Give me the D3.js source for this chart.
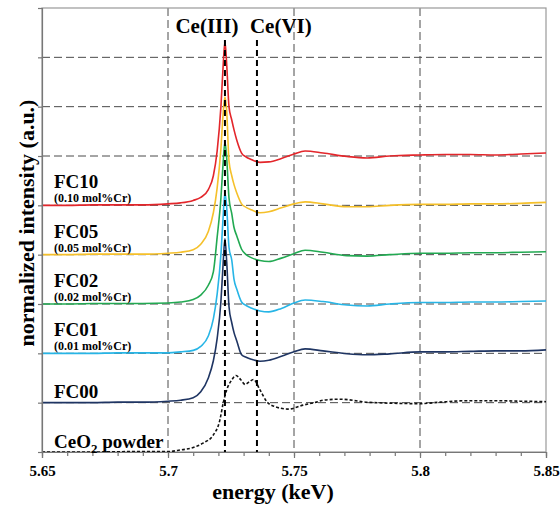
<!DOCTYPE html>
<meta charset="utf-8">
<style>

body {
  margin: 0;
  background: #fff;
}

text {
  font-family: "Liberation Serif", "Times New Roman", serif;
  font-weight: bold;
  fill: #000;
}

.grid line {
  stroke: #4a4a4a;
  stroke-width: 1;
  stroke-dasharray: 8,4;
}

.axis path,
.axis line {
  stroke: #777;
  stroke-width: 1.2;
}

.spectrum {
  fill: none;
  stroke-width: 1.6;
}

</style>
<svg width="560" height="507"></svg>
<script src="https://d3js.org/d3.v7.min.js"></script>
<script>

// energies (keV) shared by the FC samples
var energy = [5.650, 5.660, 5.670, 5.680, 5.690, 5.700, 5.705, 5.710, 5.713, 5.716,
              5.718, 5.7195, 5.721, 5.7218, 5.7226, 5.7233, 5.7242, 5.7253, 5.7262, 5.7273,
              5.7292, 5.731, 5.733, 5.7365, 5.740, 5.745, 5.750, 5.7544, 5.7615, 5.771,
              5.779, 5.788, 5.800, 5.810, 5.820, 5.830, 5.840, 5.850];

// normalized intensity above each spectrum's own baseline
var fc10 = [0, 0, 0.01, 0.01, 0.01, 0.03, 0.05, 0.10, 0.16, 0.32,
            0.60, 1.10, 2.00, 2.75, 3.32, 2.85, 2.00, 1.73, 1.53, 1.32,
            1.06, 0.98, 0.93, 0.87, 0.88, 0.95, 1.04, 1.10, 1.06, 0.99,
            0.96, 1.00, 1.02, 1.03, 1.03, 1.02, 1.04, 1.06];
var fc05 = [0, 0, 0.01, 0.01, 0.01, 0.03, 0.05, 0.10, 0.21, 0.47,
            0.85, 1.35, 2.15, 2.80, 3.20, 2.90, 1.90, 1.60, 1.42, 1.25,
            1.03, 0.96, 0.91, 0.85, 0.87, 0.95, 1.03, 1.07, 1.03, 0.97,
            0.97, 1.00, 1.02, 1.02, 1.03, 1.03, 1.04, 1.06];
var fc02 = [0, 0, 0.01, 0.01, 0.01, 0.02, 0.04, 0.09, 0.18, 0.38,
            0.65, 1.35, 2.15, 2.80, 3.29, 2.95, 2.15, 1.83, 1.55, 1.38,
            1.11, 1.00, 0.94, 0.88, 0.86, 0.93, 1.02, 1.09, 1.05, 0.98,
            0.97, 1.00, 1.03, 1.03, 1.04, 1.04, 1.05, 1.06];
var fc01 = [0, 0, 0, 0.01, 0.01, 0.01, 0.03, 0.06, 0.14, 0.35,
            0.70, 1.20, 2.00, 2.70, 3.26, 2.95, 2.15, 1.89, 1.50, 1.30,
            1.04, 0.97, 0.92, 0.86, 0.84, 0.91, 1.02, 1.08, 1.05, 0.98,
            0.96, 1.00, 1.03, 1.03, 1.04, 1.04, 1.05, 1.06];
var fc00 = [0, 0, 0, 0.01, 0.01, 0.03, 0.05, 0.10, 0.22, 0.50,
            0.85, 1.30, 2.05, 2.75, 3.32, 2.85, 1.95, 1.62, 1.42, 1.25,
            0.97, 0.92, 0.88, 0.84, 0.86, 0.94, 1.03, 1.09, 1.05, 0.99,
            0.97, 0.99, 1.03, 1.03, 1.04, 1.05, 1.05, 1.07];

var samples = ["FC10", "FC05", "FC02", "FC01", "FC00"];
var notes = ["(0.10 mol%Cr)", "(0.05 mol%Cr)", "(0.02 mol%Cr)", "(0.01 mol%Cr)", ""];
var offsets = [5, 4, 3, 2, 1];
var colors = ["#e3262b", "#f5c02a", "#22a952", "#27b5e6", "#1f3563"];

// CeO2 reference powder
var ceo2Energy = [5.650, 5.670, 5.690, 5.700, 5.7048, 5.710, 5.7139, 5.7179, 5.7206, 5.7219,
                  5.7233, 5.7253, 5.727, 5.7288, 5.7306, 5.7322, 5.7339, 5.7365, 5.7392, 5.7425,
                  5.7477, 5.7536, 5.7595, 5.7615, 5.7683, 5.779, 5.7881, 5.800, 5.8079, 5.8187,
                  5.830, 5.840, 5.850];
var ceo2 = [0, 0, 0.01, 0.01, 0.04, 0.09, 0.18, 0.34, 0.65, 0.99,
            1.26, 1.46, 1.55, 1.47, 1.37, 1.42, 1.47, 1.26, 1.02, 0.92,
            0.87, 0.95, 1.02, 1.05, 1.07, 1.01, 0.99, 0.98, 1.01, 1.04,
            1.04, 1.03, 1.02];

var peakEnergy = [5.7226, 5.7353];
var peakNames = ["Ce(III)", "Ce(VI)"];
var xTicks = [5.65, 5.7, 5.75, 5.8, 5.85];

var svg = d3.select("svg"),
    margin = {top: 8, right: 14, bottom: 55, left: 42},
    width = +svg.attr("width") - margin.left - margin.right,
    height = +svg.attr("height") - margin.top - margin.bottom;

var x = d3.scaleLinear().domain([5.65, 5.85]).range([0, width]),
    y = d3.scaleLinear().domain([0, 9]).range([height, 0]);

var g = svg.append("g")
    .attr("transform", "translate(" + margin.left + "," + margin.top + ")");

// dashed grid
var grid = g.append("g")
    .attr("class", "grid");

grid.selectAll("line.h")
  .data(d3.range(1, 9))
  .enter().append("line")
    .attr("class", "h")
    .attr("x1", 0)
    .attr("x2", width)
    .attr("y1", function(d) { return y(d); })
    .attr("y2", function(d) { return y(d); });

grid.selectAll("line.v")
  .data([5.7, 5.75, 5.8])
  .enter().append("line")
    .attr("class", "v")
    .attr("x1", function(d) { return x(d); })
    .attr("x2", function(d) { return x(d); })
    .attr("y1", 0)
    .attr("y2", height);

g.append("rect")
    .attr("width", width)
    .attr("height", height)
    .attr("fill", "none")
    .attr("stroke", "#999")
    .attr("stroke-width", 1.2);

// spectra
var line = d3.line()
    .curve(d3.curveMonotoneX);

var series = [fc10, fc05, fc02, fc01, fc00];

series.forEach(function(vals, i) {
  g.append("path")
      .attr("class", "spectrum")
      .attr("stroke", colors[i])
      .attr("d", line(vals.map(function(v, j) {
        return [x(energy[j]), y(v + offsets[i])];
      })));
});

g.append("path")
    .attr("class", "spectrum")
    .attr("stroke", "#111")
    .attr("stroke-width", 1.4)
    .attr("stroke-dasharray", "3,2")
    .attr("d", line(ceo2.map(function(v, j) {
      return [x(ceo2Energy[j]), y(v)];
    })));

// Ce(III) / Ce(VI) markers
g.selectAll(".peak")
  .data(peakEnergy)
  .enter().append("line")
    .attr("class", "peak")
    .attr("x1", function(d) { return x(d); })
    .attr("x2", function(d) { return x(d); })
    .attr("y1", 32)
    .attr("y2", height)
    .attr("stroke", "#000")
    .attr("stroke-width", 2)
    .attr("stroke-dasharray", "6,4");

g.append("text")
    .attr("x", x(peakEnergy[0]) - 18)
    .attr("y", 25)
    .attr("text-anchor", "middle")
    .style("font-size", "21px")
    .text(peakNames[0]);

g.append("text")
    .attr("x", x(peakEnergy[1]) - 7)
    .attr("y", 25)
    .style("font-size", "21px")
    .text(peakNames[1]);

// axes
g.append("g")
    .attr("class", "axis axis--y")
    .call(d3.axisLeft(y).ticks(9).tickSize(4).tickFormat(""))
    .selectAll("text").remove();

var minor = g.append("g")
    .attr("class", "axis axis--minor")
    .attr("transform", "translate(0," + height + ")")
    .call(d3.axisBottom(x).ticks(20).tickSize(4).tickFormat(""));
minor.select(".domain").remove();
minor.selectAll("text").remove();
minor.selectAll("line").attr("stroke", "#444");

var xAxis = g.append("g")
    .attr("class", "axis axis--x")
    .attr("transform", "translate(0," + height + ")")
    .call(d3.axisBottom(x).tickValues(xTicks).tickSize(6).tickPadding(7)
      .tickFormat(function(d) { return String(d); }));

xAxis.selectAll("path, line").attr("stroke", "#444");
xAxis.selectAll("text")
    .attr("fill", "#000")
    .style("font-size", "15px")
    .style("font-weight", "bold")
    .style("font-family", "'Liberation Serif', 'Times New Roman', serif");

// sample labels
samples.forEach(function(s, i) {
  g.append("text")
      .attr("x", 12)
      .attr("y", y(offsets[i]) - (notes[i] ? 17 : 5))
      .style("font-size", "19px")
      .text(s);
  if (notes[i]) {
    g.append("text")
        .attr("x", 12)
        .attr("y", y(offsets[i]) - 3)
        .style("font-size", "12px")
        .text(notes[i]);
  }
});

var ceo2Label = g.append("text")
    .attr("x", 12)
    .attr("y", y(0) - 4)
    .style("font-size", "19px");
ceo2Label.append("tspan").text("CeO");
ceo2Label.append("tspan").attr("dy", 5).style("font-size", "13px").text("2");
ceo2Label.append("tspan").attr("dy", -5).text(" powder");

// axis titles
svg.append("text")
    .attr("x", 273)
    .attr("y", 498.5)
    .attr("text-anchor", "middle")
    .style("font-size", "22px")
    .text("energy (keV)");

svg.append("text")
    .attr("transform", "translate(34,223) rotate(-90)")
    .attr("text-anchor", "middle")
    .style("font-size", "22px")
    .text("normalized intensity (a.u.)");

</script>
